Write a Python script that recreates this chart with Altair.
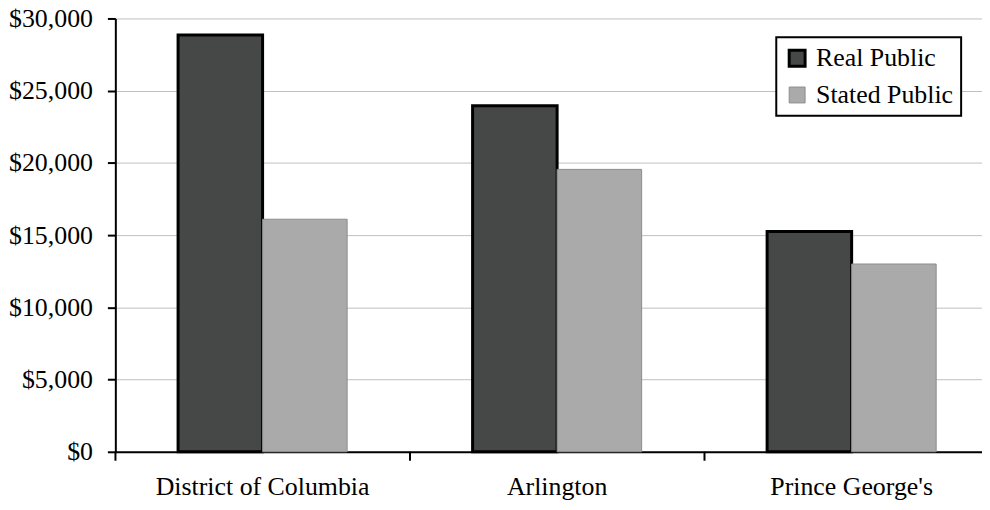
import altair as alt
import pandas as pd

categories = ["District of Columbia", "Arlington", "Prince George's"]
series = ["Real Public", "Stated Public"]
real_public = [28850, 23950, 15250]
stated_public = [16100, 19550, 13000]
y_ticks = [0, 5000, 10000, 15000, 20000, 25000, 30000]

rows = []
for c, r, s in zip(categories, real_public, stated_public):
    rows.append({"county": c, "series": series[0], "value": r})
    rows.append({"county": c, "series": series[1], "value": s})
df = pd.DataFrame(rows)
ticks_df = pd.DataFrame({"county": categories})

font = "Liberation Serif"
FS = 26
x_scale = alt.Scale(range=[0, 889], paddingInner=0.426, paddingOuter=0.213)

bars = alt.Chart(df).mark_bar().encode(
    x=alt.X(
        "county:N",
        sort=categories,
        scale=x_scale,
        axis=alt.Axis(
            title=None, labelAngle=0, grid=False, ticks=False, labelLimit=0,
            domainColor="black", domainWidth=2,
            labelPadding=22, labelFontSize=FS, labelFont=font,
            labelColor="black",
        ),
    ),
    xOffset=alt.XOffset("series:N", sort=series,
                        scale=alt.Scale(domain=series, paddingInner=0, paddingOuter=0)),
    y=alt.Y(
        "value:Q",
        scale=alt.Scale(domain=[0, 30000], nice=False),
        axis=alt.Axis(
            title=None, values=y_ticks, format="$,d", grid=True,
            gridColor="#bfbfbf", gridWidth=1, domainColor="black", domainWidth=2,
            tickColor="black", tickWidth=2, tickSize=8, labelPadding=15,
            labelFontSize=FS, labelFont=font, labelColor="black",
        ),
    ),
    color=alt.Color(
        "series:N", sort=series,
        scale=alt.Scale(domain=series, range=["#464847", "#a9aaa9"]),
        legend=alt.Legend(
            title=None, orient="none", legendX=665, legendY=19,
            fillColor="white", strokeColor="black",
            padding=8, labelFont=font, labelFontSize=FS, labelColor="black",
            symbolType="square", symbolSize=256, rowPadding=10, labelOffset=6,
        ),
    ),
    stroke=alt.Stroke(
        "series:N", sort=series,
        scale=alt.Scale(domain=series, range=["#000000", "#8c8c8c"]),
    ),
    strokeWidth=alt.StrokeWidth(
        "series:N", sort=series,
        scale=alt.Scale(domain=series, range=[3, 1]),
    ),
)

ticks = alt.Chart(ticks_df).mark_rule(color="black", strokeWidth=2, xOffset=-63).encode(
    x=alt.X("county:N", sort=categories, bandPosition=0),
    y=alt.value(436),
    y2=alt.value(445),
)

chart = alt.layer(bars, ticks).properties(
    width=872,
    height=436,
    autosize=alt.AutoSizeParams(type="none"),
    padding={"left": 108, "top": 9, "right": 0, "bottom": 49},
    background="white",
).configure_view(stroke=None).configure_legend(strokeWidth=2)

chart.save("out.html", embed_options={"renderer": "svg", "actions": False})
